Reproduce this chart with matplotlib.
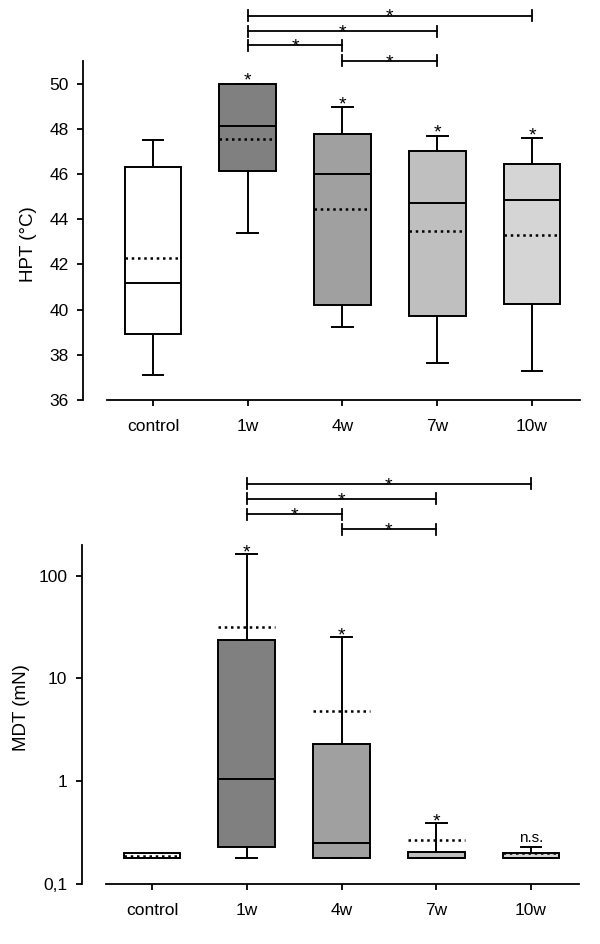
import matplotlib
matplotlib.use('Agg')
import matplotlib.pyplot as plt
from matplotlib.ticker import NullLocator

plt.rcParams['font.family'] = ['Liberation Sans', 'DejaVu Sans']
plt.rcParams['font.size'] = 12.5

groups = ['control', '1w', '4w', '7w', '10w']
fills = ['#ffffff', '#808080', '#a0a0a0', '#bfbfbf', '#d5d5d5']

# HPT (°C)
hpt_whislo = [37.11, 43.37, 39.23, 37.65, 37.28]
hpt_q1 = [38.92, 46.11, 40.21, 39.71, 40.23]
hpt_med = [41.19, 48.13, 46.02, 44.72, 44.87]
hpt_q3 = [46.29, 50.0, 47.79, 47.01, 46.43]
hpt_whishi = [47.52, 50.0, 48.95, 47.70, 47.58]
hpt_mean = [42.29, 47.54, 44.46, 43.47, 43.29]
hpt_marks = ['', '*', '*', '*', '*']

# MDT (mN)
mdt_whislo = [0.18, 0.18, 0.18, 0.18, 0.18]
mdt_q1 = [0.18, 0.232, 0.18, 0.18, 0.18]
mdt_med = [0.18, 1.05, 0.25, 0.18, 0.18]
mdt_q3 = [0.20, 23.5, 2.29, 0.206, 0.203]
mdt_whishi = [0.20, 161, 25.4, 0.397, 0.229]
mdt_mean = [0.19, 31.5, 4.83, 0.27, 0.202]
mdt_marks = ['', '*', '*', '*', 'n.s.']

# pairwise comparisons (group index pairs), drawn top to bottom
pairs = [(1, 4), (1, 3), (1, 2), (2, 3)]
pair_marks = ['*', '*', '*', '*']

PT = 0.72  # px -> pt at dpi 100
STAR_FS = 14
STAR_MID = 0.58 * STAR_FS / PT  # px from baseline to middle of the asterisk


def make_stats(lo, q1, med, q3, hi, mean):
    return [dict(whislo=lo[i], q1=q1[i], med=med[i], q3=q3[i], whishi=hi[i],
                 mean=mean[i], fliers=[]) for i in range(len(lo))]


def star(ax, x, y, dy_px, xycoords='data'):
    # dy_px: where the middle of the asterisk should sit, above (x, y)
    ax.annotate('*', xy=(x, y), xycoords=xycoords, xytext=(0, (dy_px - STAR_MID) * PT),
                textcoords='offset points', ha='center', va='baseline', fontsize=STAR_FS)


def draw_panel(ax, stats, marks, bracket_y, mark_off):
    lw = 1.4
    b = ax.bxp(stats, positions=range(len(groups)), widths=0.6, patch_artist=True,
               showmeans=True, meanline=True, showfliers=False, capwidths=0.22,
               boxprops=dict(linewidth=lw, edgecolor='black'),
               medianprops=dict(color='black', linewidth=lw),
               meanprops=dict(color='black', linewidth=1.8, linestyle=(0, (1, 1.5))),
               whiskerprops=dict(color='black', linewidth=lw),
               capprops=dict(color='black', linewidth=lw))
    for patch, c in zip(b['boxes'], fills):
        patch.set_facecolor(c)

    ax.set_xlim(-0.739, 4.612)
    ax.set_xticks(range(len(groups)))
    ax.set_xticklabels(groups)
    for s in ['top', 'right']:
        ax.spines[s].set_visible(False)
    ax.spines['left'].set_linewidth(1.3)
    ax.spines['bottom'].set_linewidth(1.3)
    ax.spines['bottom'].set_bounds(-0.486, 4.507)
    ax.tick_params(axis='both', direction='out', length=4, width=1.3)
    ax.tick_params(axis='x', pad=9.5)
    ax.tick_params(axis='y', pad=6.5)

    # marks above each whisker
    for i, m in enumerate(marks):
        if not m:
            continue
        if m == '*':
            star(ax, i, stats[i]['whishi'], mark_off)
        else:
            ax.annotate(m, xy=(i, stats[i]['whishi']), xytext=(0, 5 * PT),
                        textcoords='offset points', ha='center', va='baseline', fontsize=11)

    # comparison brackets above the axes
    tr = ax.get_xaxis_transform()
    cap = 5.5 / 339
    for (a, c), y, m in zip(pairs, bracket_y, pair_marks):
        ax.plot([a, c], [y, y], color='black', lw=1.3, transform=tr, clip_on=False)
        for xx in (a, c):
            ax.plot([xx, xx], [y - cap, y + cap], color='black', lw=1.3,
                    transform=tr, clip_on=False)
        star(ax, (a + c) / 2, y, 5, xycoords=tr)


fig = plt.figure(figsize=(6, 9.44), dpi=100)

ax1 = fig.add_axes([0.1383, 0.5763, 0.845, 0.3591])
draw_panel(ax1, make_stats(hpt_whislo, hpt_q1, hpt_med, hpt_q3, hpt_whishi, hpt_mean),
           hpt_marks, [1.134, 1.088, 1.047, 1.000], 9.5)
ax1.set_ylim(36, 51)
ax1.set_yticks([36, 38, 40, 42, 44, 46, 48, 50])
ax1.set_ylabel('HPT (°C)', fontsize=13.5)
ax1.yaxis.set_label_coords(-0.091, 0.46)

ax2 = fig.add_axes([0.1367, 0.0633, 0.845, 0.3594])
ax2.set_yscale('log')
draw_panel(ax2, make_stats(mdt_whislo, mdt_q1, mdt_med, mdt_q3, mdt_whishi, mdt_mean),
           mdt_marks, [1.180, 1.136, 1.091, 1.047], 7.6)
ax2.set_ylim(0.1, 198)
ax2.set_yticks([0.1, 1, 10, 100])
ax2.set_yticklabels(['0,1', '1', '10', '100'])
ax2.yaxis.set_minor_locator(NullLocator())
ax2.set_ylabel('MDT (mN)', fontsize=13.5)
ax2.yaxis.set_label_coords(-0.103, 0.52)

fig.savefig('out.png', dpi=100)
